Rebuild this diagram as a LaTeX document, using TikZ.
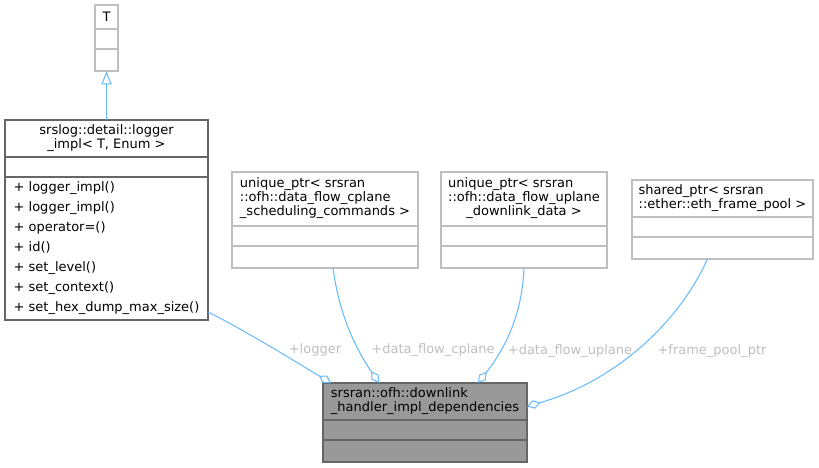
\documentclass[tikz,border=0pt]{standalone}
\usepackage{fontspec}
\setmainfont{DejaVu Sans}
\usepackage{tikz}
\usetikzlibrary{arrows.meta, positioning, calc}
\definecolor{edgeblue}{HTML}{63B8FF}
\definecolor{lightframe}{HTML}{BFBFBF}
\definecolor{darkframe}{HTML}{666666}
\definecolor{classfill}{HTML}{999999}
\definecolor{labelgrey}{HTML}{BEBEBE}
\tikzset{
  classbox/.style  = {draw=lightframe, line width=1.1pt, fill=white,
                      outer sep=0pt, inner sep=0pt,
                      font=\fontsize{9.75}{10.5}\selectfont},
  docclass/.style  = {classbox, draw=darkframe},
  curclass/.style  = {classbox, draw=darkframe, fill=classfill},
  attrrow/.style   = {minimum height=15pt},
  methrow/.style   = {minimum height=16.5pt},
  aggr/.style      = {-{Diamond[open, length=10.5pt, width=6.5pt]},
                      edgeblue, line width=0.75pt},
  inherit/.style   = {-{Triangle[open, length=10pt, width=7.5pt]},
                      edgeblue, line width=0.75pt},
  edgelabel/.style = {text=labelgrey, inner sep=0pt,
                      font=\fontsize{9.75}{10.5}\selectfont},
}
\newcommand{\titlelines}[1]{\begin{tabular}{@{}l@{}}#1\end{tabular}}
\newcommand{\midlast}[1]{\multicolumn{1}{@{}c@{}}{#1}}

\begin{document}
\begin{tikzpicture}[x=0.75pt, y=-0.75pt]
    \useasboundingbox (0,0) rectangle (819,468);
    \node[classbox, anchor=north west, minimum width=17.25pt, minimum height=18pt] (tt) at (95,5) {T};
    \node[classbox, attrrow, minimum width=17.25pt, below=0pt of tt] (ta) {};
    \node[classbox, methrow, minimum width=17.25pt, below=0pt of ta] (tm) {};
    \node[docclass, anchor=north west, minimum width=152.25pt, minimum height=27.75pt, align=center] (lgt) at (5,120)
      {srslog::detail::logger\\\_impl< T, Enum >};
    \node[docclass, attrrow, minimum width=152.25pt, below=0pt of lgt] (lga) {};
    \node[docclass, minimum width=152.25pt, minimum height=107.25pt, align=left,
          font=\fontsize{9.75}{15}\selectfont, below=0pt of lga] (lgm)
      {+ logger\_impl()\\+ logger\_impl()\\+ operator=()\\+ id()\\+ set\_level()\\+ set\_context()\\+ set\_hex\_dump\_max\_size()};
    \node[classbox, anchor=north west, minimum width=139.5pt, minimum height=40.5pt] (cpt) at (232,172)
      {\titlelines{unique\_ptr< srsran\\::ofh::data\_flow\_cplane\\\midlast{\_scheduling\_commands >}}};
    \node[classbox, attrrow, minimum width=139.5pt, below=0pt of cpt] (cpa) {};
    \node[classbox, methrow, minimum width=139.5pt, below=0pt of cpa] (cpm) {};
    \node[classbox, anchor=north west, minimum width=124.5pt, minimum height=40.5pt] (upt) at (441,172)
      {\titlelines{unique\_ptr< srsran\\::ofh::data\_flow\_uplane\\\midlast{\_downlink\_data >}}};
    \node[classbox, attrrow, minimum width=124.5pt, below=0pt of upt] (upa) {};
    \node[classbox, methrow, minimum width=124.5pt, below=0pt of upa] (upm) {};
    \node[classbox, anchor=north west, minimum width=135.75pt, minimum height=27.75pt] (sht) at (632,180)
      {\titlelines{shared\_ptr< srsran\\\midlast{::ether::eth\_frame\_pool >}}};
    \node[classbox, attrrow, minimum width=135.75pt, below=0pt of sht] (sha) {};
    \node[classbox, methrow, minimum width=135.75pt, below=0pt of sha] (shm) {};
    \node[curclass, anchor=north west, minimum width=153pt, minimum height=27.75pt] (dlt) at (323,383)
      {\titlelines{srsran::ofh::downlink\\\midlast{\_handler\_impl\_dependencies}}};
    \node[curclass, attrrow, minimum width=153pt, below=0pt of dlt] (dla) {};
    \node[curclass, methrow, minimum width=153pt, below=0pt of dla] (dlm) {};
    \draw[inherit] (lgt) -- (tm);
    \draw[aggr] ($(lgm.south east)+(0,-8)$) .. controls +(40,20) and +(-30,-18) .. ($(dlt.north west)+(8,0)$);
    \draw[aggr] ($(cpm.south)+(8,0)$) .. controls +(7,53) and +(-19,-28) .. ($(dlt.north west)+(56,0)$);
    \draw[aggr] (upm.south) .. controls +(-2,53) and +(22,-28) .. ($(dlt.north west)+(155,0)$);
    \draw[aggr] ($(shm.south)+(-15,0)$) .. controls +(-27,60) and +(93,-27) .. ($(dlt.east)+(0,5)$);
    \node[edgelabel] (lblogger) at (315,350) {+logger};
    \node[edgelabel] (lbcplane) at (433,350) {+data\_flow\_cplane};
    \node[edgelabel] (lbuplane) at (570,351) {+data\_flow\_uplane};
    \node[edgelabel] (lbpool) at (712,351) {+frame\_pool\_ptr};
  \end{tikzpicture}
\end{document}
